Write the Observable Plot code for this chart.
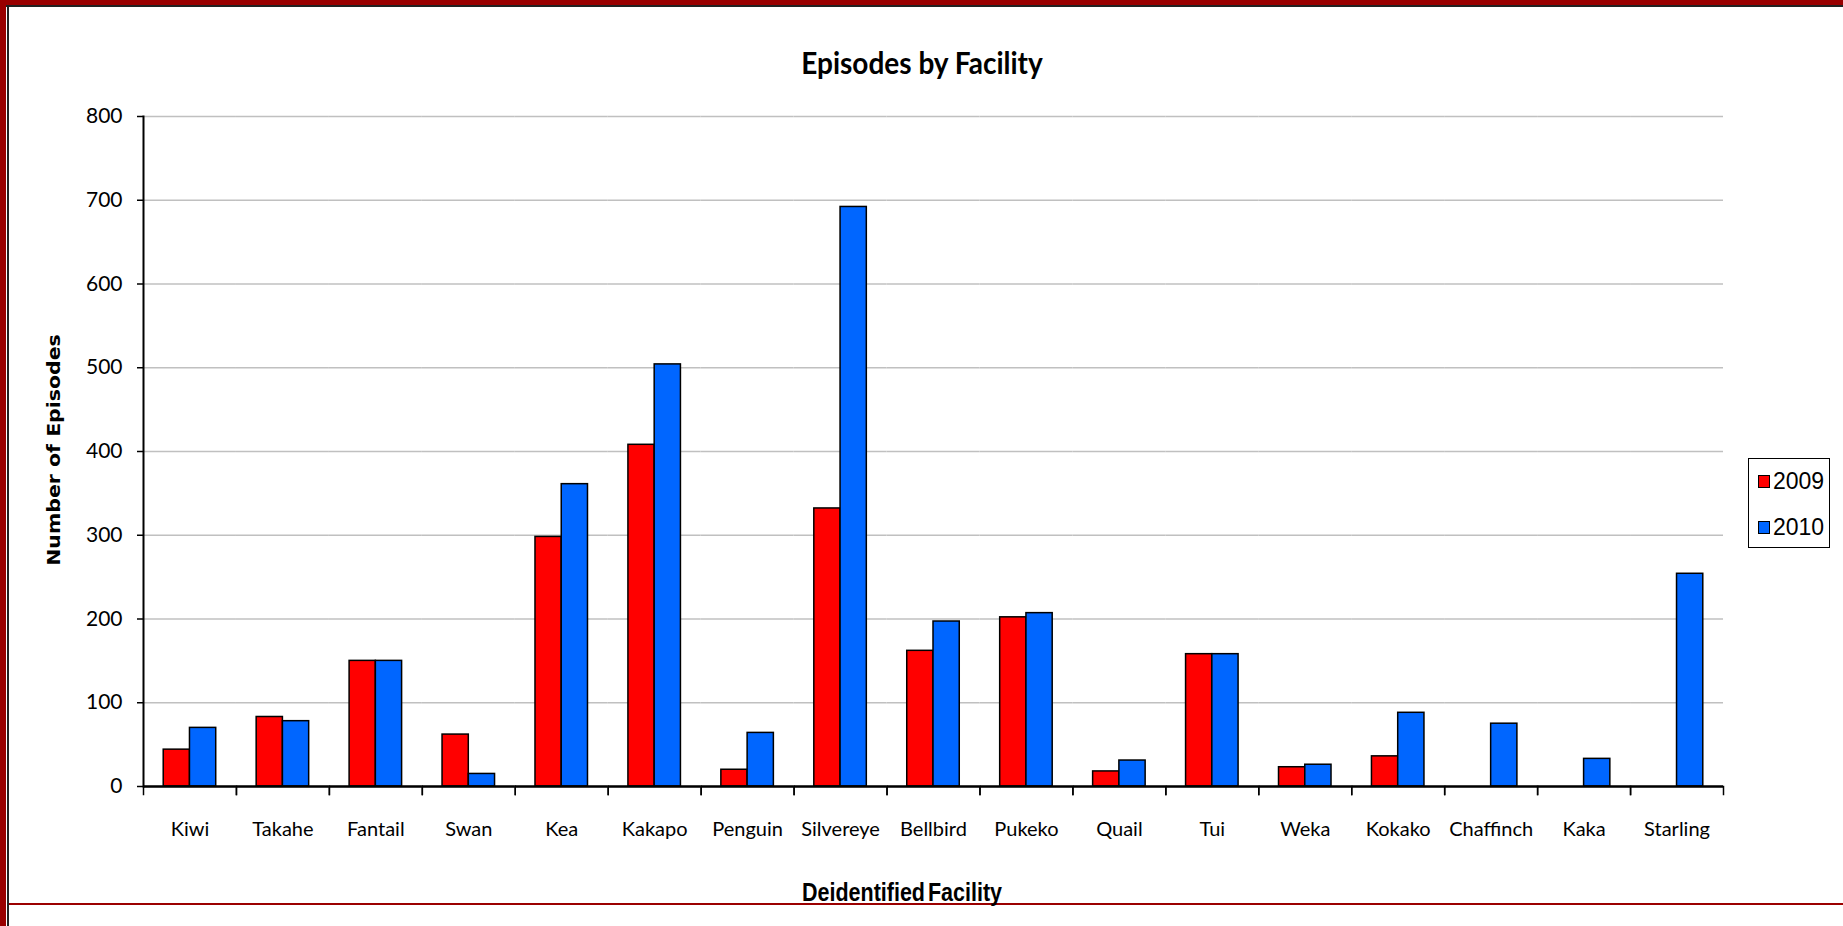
<!DOCTYPE html>
<html>
<head>
<meta charset="utf-8">
<script src="https://cdn.jsdelivr.net/npm/d3@7"></script>
<script src="https://cdn.jsdelivr.net/npm/@observablehq/plot@0.6"></script>
<style>
  html, body { margin: 0; padding: 0; background: #fff; }
  #page { position: relative; width: 1843px; height: 926px; overflow: hidden; background: #fff; font-family: Lato, "Open Sans", sans-serif; color: #000; }
  #chart { position: absolute; left: 0; top: 0; }
  .abs { position: absolute; }
  #title { left: 922px; top: 62px; font-weight: bold; font-size: 28px; white-space: nowrap; line-height: 1; transform: translate(-50%, -50%) scaleY(1.1); }
  #ylabel { left: 55px; top: 450px; font-family: "DejaVu Sans", sans-serif; font-weight: bold; font-size: 17.5px; transform: translate(-50%, -50%) rotate(-90deg) scaleX(1.17); white-space: nowrap; line-height: 1; }
  #xlabel { left: 902px; top: 894px; font-family: "Liberation Sans", Arial, sans-serif; font-weight: bold; font-size: 21.5px; word-spacing: -3px; white-space: nowrap; line-height: 1; transform: translate(-50%, -50%) scaleY(1.17); }
  #legend { left: 1748px; top: 458px; width: 82px; height: 90px; box-sizing: border-box; border: 1.5px solid #000; background: #fff; font-family: "Liberation Sans", Arial, sans-serif; font-size: 23px; }
  .item { position: absolute; left: 9px; height: 24px; display: flex; align-items: center; line-height: 1; }
  .sw { width: 10px; height: 11px; border: 1px solid #000; margin-right: 3px; }
  #frameTop { left: 0; top: 0; width: 1843px; height: 5px; background: #990000; }
  #frameTopLine { left: 6px; top: 5px; width: 1837px; height: 2px; background: #222; }
  #frameLeft { left: 0; top: 0; width: 6px; height: 926px; background: #990000; }
  #frameLeftLine { left: 7px; top: 5px; width: 2px; height: 921px; background: #222; }
  #footer { left: 9px; top: 903px; width: 1834px; height: 1.5px; background: #9b0000; }
</style>
</head>
<body>
<div id="page">
  <div id="chart"></div>
  <div class="abs" id="frameTop"></div>
  <div class="abs" id="frameLeft"></div>
  <div class="abs" id="frameTopLine"></div>
  <div class="abs" id="frameLeftLine"></div>
  <div class="abs" id="footer"></div>
  <div class="abs" id="title">Episodes by Facility</div>
  <div class="abs" id="ylabel">Number of Episodes</div>
  <div class="abs" id="xlabel">Deidentified Facility</div>
  <div class="abs" id="legend"></div>
</div>
<script>
// ---- data ----
const facilities = ["Kiwi", "Takahe", "Fantail", "Swan", "Kea", "Kakapo", "Penguin", "Silvereye", "Bellbird", "Pukeko", "Quail", "Tui", "Weka", "Kokako", "Chaffinch", "Kaka", "Starling"];
const years = ["2009", "2010"];
const episodes2009 = [44, 83, 150, 62, 298, 408, 20, 332, 162, 202, 18, 158, 23, 36, null, null, null];
const episodes2010 = [70, 78, 150, 15, 361, 504, 64, 692, 197, 207, 31, 158, 26, 88, 75, 33, 254];
const yTicks = [0, 100, 200, 300, 400, 500, 600, 700, 800];
const seriesColors = ["#ff0000", "#0066ff"];

const series = {"2009": episodes2009, "2010": episodes2010};
const data = [];
facilities.forEach((f, i) => {
  years.forEach(y => {
    const v = series[y][i];
    if (v != null) data.push({facility: f, year: y, value: v});
  });
});

// ---- layout ----
const W = 1843, H = 926;
const mL = 143, mR = 120, mT = 116, mB = 140;
const plotH = H - mT - mB;

const plot = Plot.plot({
  width: W,
  height: H,
  marginLeft: mL,
  marginRight: mR,
  marginTop: mT,
  marginBottom: mB,
  style: {fontFamily: "Lato, 'Open Sans', sans-serif", background: "transparent", color: "#000"},
  fx: {domain: facilities, padding: 0, round: false},
  x: {domain: years, paddingInner: 0, paddingOuter: 0.77, round: false, axis: null},
  y: {domain: [0, 800]},
  color: {domain: years, range: seriesColors},
  marks: [
    Plot.gridY(yTicks, {stroke: "#c0c0c0", strokeOpacity: 1, strokeWidth: 1.5}),
    Plot.barY(data, {fx: "facility", x: "year", y: "value", fill: "year", stroke: "#000", strokeWidth: 1.5}),
    Plot.ruleY([0], {stroke: "#000", strokeWidth: 2.5}),
    Plot.frame({anchor: "left", insetTop: plotH, insetBottom: -8, stroke: "#000", strokeWidth: 1.5}),
    Plot.frame({anchor: "right", insetTop: plotH, insetBottom: -8, stroke: "#000", strokeWidth: 1.5}),
    Plot.frame({anchor: "left", facet: "super", stroke: "#000", strokeWidth: 2}),
    Plot.axisY(yTicks, {tickSize: 6, tickPadding: 15, fontSize: 21, label: null, strokeWidth: 1.5}),
    Plot.axisFx({anchor: "bottom", tickSize: 0, tickPadding: 35, fontSize: 20, label: null})
  ]
});
document.getElementById("chart").appendChild(plot);

// ---- legend from the plot's color scale ----
const colorScale = plot.scale("color");
const legend = document.getElementById("legend");
colorScale.domain.forEach((y, i) => {
  const item = document.createElement("div");
  item.className = "item";
  item.style.top = (10 + i * 46) + "px";
  const sw = document.createElement("div");
  sw.className = "sw";
  sw.style.background = colorScale.range[i];
  const t = document.createElement("span");
  t.textContent = y;
  item.appendChild(sw);
  item.appendChild(t);
  legend.appendChild(item);
});
</script>
</body>
</html>
